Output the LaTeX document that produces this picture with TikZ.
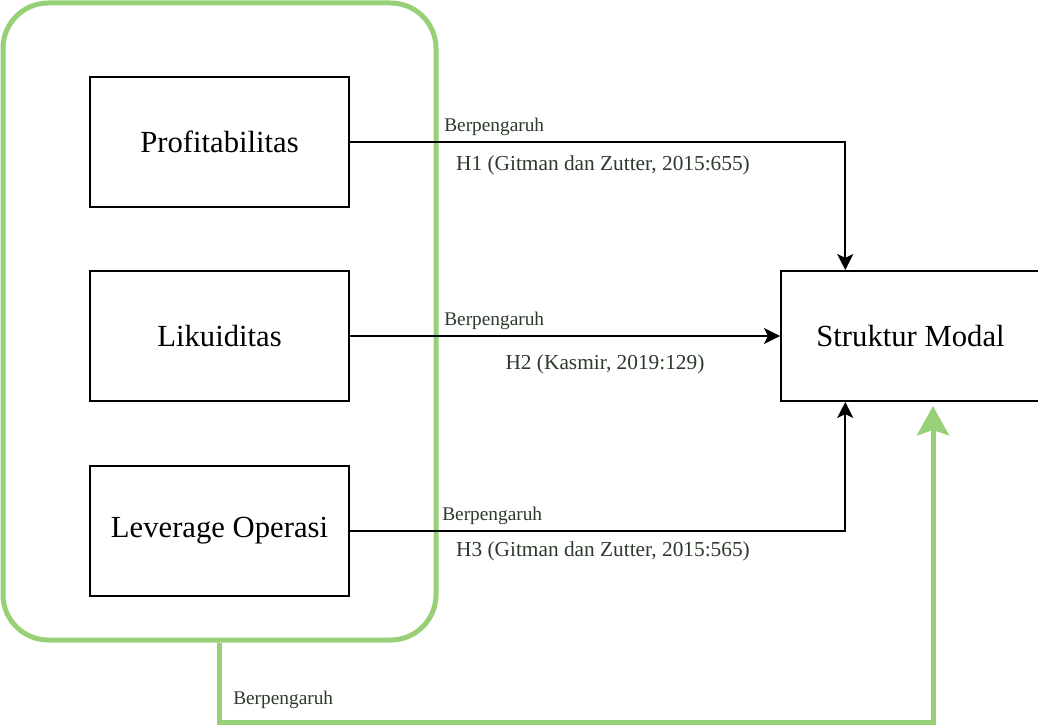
\documentclass[tikz,border=0pt]{standalone}
\usepackage{fontspec}
\setmainfont{Liberation Serif}
\usetikzlibrary{arrows.meta}
\usetikzlibrary{calc}
\definecolor{grn}{HTML}{97D077}
\definecolor{lbltext}{HTML}{2C3A2C}
\tikzset{varbox/.style={rectangle, draw, line width=1.5pt, minimum width=194.25pt, minimum height=97.5pt, font=\fontsize{23}{27}\selectfont}}
\tikzset{link/.style={draw, line width=1.5pt, -{Stealth[length=12pt, width=12pt, inset=3pt]}}}
\tikzset{lbl/.style={text=lbltext, inner sep=0pt, font=\fontsize{14.5}{17}\selectfont}}
\tikzset{hyp/.style={lbl, font=\fontsize{16}{19}\selectfont}}

\begin{document}
\begin{tikzpicture}[x=0.75pt,y=-0.75pt]
  \useasboundingbox (0,0) rectangle (1038,727);
  \node[rectangle, draw=grn, line width=3.75pt, rounded corners=34pt, minimum width=324.75pt, minimum height=477.75pt] (frame) at (219.5,321.5) {};
  \foreach \y/\lab/\txt in {
    142/prof/Profitabilitas,
    336/likd/Likuiditas,
    531/levop/Leverage Operasi%
  } {
    \node[varbox] (\lab) at (219.5,\y) {\txt};
  }
  \node[varbox] (sm) at (910.5,336) {Struktur Modal};

  \draw[link] (prof.east) -| ($(sm.north west)!.25!(sm.north east)$);
  \draw[link] (likd.east) -- (sm.west);
  \draw[link] (levop.east) -| ($(sm.south west)!.25!(sm.south east)$);

  \node[lbl, anchor=west] (berpA) at (444,127) {Berpengaruh};
  \node[lbl, anchor=west] (berpB) at (444,321) {Berpengaruh};
  \node[lbl, anchor=west] (berpC) at (442,516) {Berpengaruh};
  \node[lbl, anchor=west] (berpD) at (233,700) {Berpengaruh};
  \node[hyp] (hypA) at (603,165) {H1 (Gitman dan Zutter, 2015:655)};
  \node[hyp] (hypB) at (605,364) {H2 (Kasmir, 2019:129)};
  \node[hyp] (hypC) at (603,551) {H3 (Gitman dan Zutter, 2015:565)};

  \coordinate (gcorner) at (933,722);
  \coordinate (gtip) at (933,406);
  \draw[grn, line width=3.75pt, -{Stealth[length=22pt, width=24pt, inset=4pt]}] (frame.south) |- (gcorner) -- (gtip);
\end{tikzpicture}
\end{document}
